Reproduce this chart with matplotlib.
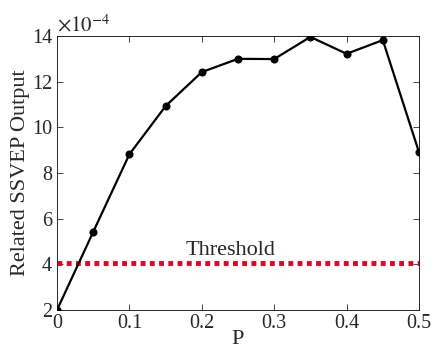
import matplotlib.pyplot as plt
import numpy as np

plt.rcParams['font.family'] = 'Liberation Serif'
plt.rcParams['mathtext.fontset'] = 'stix'

p = [0, 0.05, 0.1, 0.15, 0.2, 0.25, 0.3, 0.35, 0.4, 0.45, 0.5]
ssvep = [2.0, 5.42, 8.82, 10.93, 12.42, 13.0, 12.99, 13.96, 13.22, 13.82, 8.91]
threshold = 4.05

fig = plt.figure(figsize=(4.37, 3.52), dpi=100)
ax = fig.add_axes([57 / 437, 1 - 310 / 352, 362 / 437, 274 / 352])

ax.plot([0, 0.5], [threshold, threshold], color='#e8001c', lw=3.5,
        linestyle=(0, (1, 0.9)), dash_capstyle='butt', zorder=2)
ax.plot(p, ssvep, color='black', lw=1.6, marker='o', markersize=4.8, zorder=3)
ax.text(0.24, 4.4, 'Threshold', fontsize=16, ha='center', va='baseline', color='#262626')

ax.set_xlim(0, 0.5)
ax.set_ylim(2, 14)
ax.set_xticks([0, 0.1, 0.2, 0.3, 0.4, 0.5])
ax.set_xticklabels(['0', '0.1', '0.2', '0.3', '0.4', '0.5'])
ax.set_yticks([2, 4, 6, 8, 10, 12, 14])
ax.tick_params(direction='in', top=True, right=True, labelsize=14.5, colors='#262626',
               length=4, width=0.6)
ax.tick_params(axis='x', pad=3)
ax.tick_params(axis='y', pad=3.5)
for s in ax.spines.values():
    s.set_color('#262626')
    s.set_linewidth(0.7)

ax.set_xlabel('P', fontsize=16, color='#262626', labelpad=-2)
ax.set_ylabel('Related SSVEP Output', fontsize=16, color='#262626', labelpad=1)
ax.text(0.0, 1.0, r'$\times 10^{-4}$', transform=ax.transAxes, fontsize=15,
        ha='left', va='bottom', color='#262626')

fig.savefig('out.png', dpi=100)
